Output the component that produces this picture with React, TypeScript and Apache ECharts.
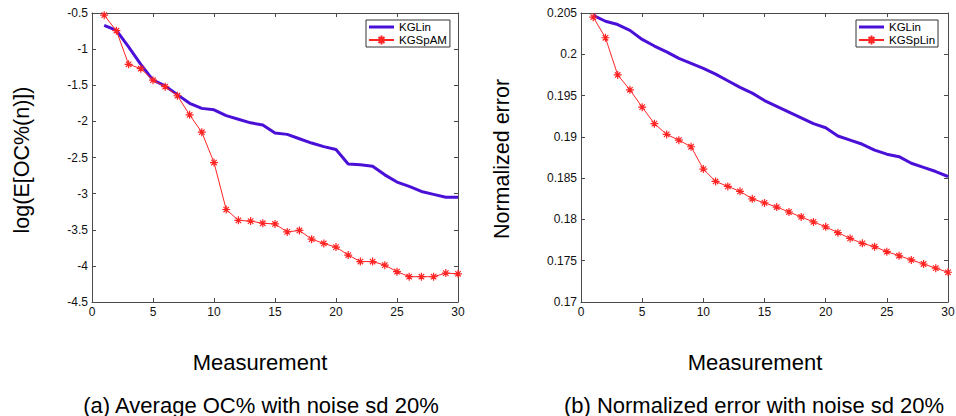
import React, { useEffect, useRef } from "react";
import * as echarts from "echarts";

const measurements = [1, 2, 3, 4, 5, 6, 7, 8, 9, 10, 11, 12, 13, 14, 15, 16, 17, 18, 19, 20, 21, 22, 23, 24, 25, 26, 27, 28, 29, 30];

const kglinA = [-0.67, -0.74, -0.97, -1.21, -1.43, -1.51, -1.63, -1.75, -1.82, -1.84, -1.92, -1.97, -2.02, -2.05, -2.16, -2.18, -2.24, -2.3, -2.35, -2.39, -2.59, -2.6, -2.62, -2.74, -2.84, -2.9, -2.97, -3.01, -3.05, -3.05];
const kgspamA = [-0.53, -0.745, -1.21, -1.27, -1.43, -1.52, -1.645, -1.91, -2.15, -2.57, -3.22, -3.37, -3.38, -3.41, -3.42, -3.53, -3.51, -3.63, -3.69, -3.74, -3.85, -3.94, -3.94, -3.99, -4.08, -4.15, -4.15, -4.15, -4.1, -4.11];

const kglinB = [0.2047, 0.204, 0.2036, 0.2029, 0.2018, 0.201, 0.2003, 0.1995, 0.1989, 0.1983, 0.1976, 0.1968, 0.196, 0.1953, 0.1944, 0.1937, 0.193, 0.1923, 0.1916, 0.1911, 0.1901, 0.1896, 0.1891, 0.1884, 0.1879, 0.1876, 0.1868, 0.1863, 0.1858, 0.1852];
const kgsplinB = [0.2045, 0.202, 0.1975, 0.1957, 0.1936, 0.1916, 0.1903, 0.1896, 0.1888, 0.1861, 0.1846, 0.184, 0.1834, 0.1825, 0.182, 0.1815, 0.1809, 0.1803, 0.1797, 0.1791, 0.1784, 0.1777, 0.1771, 0.1767, 0.1761, 0.1756, 0.1751, 0.1746, 0.1741, 0.1736];

const xLabel = "Measurement";
const yLabelA = "log(E[OC%(n)])";
const yLabelB = "Normalized error";
const captionA = "(a) Average OC% with noise sd 20%";
const captionB = "(b) Normalized error with noise sd 20%";

const FONT = '"Liberation Sans", Arial, Helvetica, sans-serif';
const BLUE = "#4a10d8";
const RED = "#ff2424";
const AXIS = "#4a4a4a";
const ASTERISK = "path://M5,0L5,10M0,5L10,5M1.6,1.6L8.4,8.4M1.6,8.4L8.4,1.6";
const THICK_LINE_ICON = "path://M0,0L25,0L25,3L0,3Z";

const pairs = (ys: number[]) => measurements.map((x, i) => [x, ys[i]]);

function xAxisFor(grid: number, pos: "bottom" | "top") {
  return {
    gridIndex: grid,
    type: "value",
    position: pos,
    min: 0,
    max: 30,
    interval: 5,
    axisLine: { show: true, onZero: false, lineStyle: { color: AXIS, width: 1 } },
    axisTick: { show: true, inside: true, length: 4, lineStyle: { color: AXIS } },
    axisLabel: { show: pos === "bottom", color: "#111", fontSize: 12, fontFamily: FONT, margin: 4 },
    splitLine: { show: false },
  };
}

function yAxisFor(grid: number, pos: "left" | "right", min: number, max: number, interval: number, dec: number) {
  return {
    gridIndex: grid,
    type: "value",
    position: pos,
    min,
    max,
    interval,
    axisLine: { show: true, onZero: false, lineStyle: { color: AXIS, width: 1 } },
    axisTick: { show: true, inside: true, length: 4, lineStyle: { color: AXIS } },
    axisLabel: {
      show: pos === "left",
      color: "#111",
      fontSize: 12,
      fontFamily: FONT,
      margin: 4,
      formatter: (v: number) => String(+v.toFixed(dec)),
    },
    splitLine: { show: false },
  };
}

function legendFor(left: number, names: string[]) {
  return {
    data: [
      { name: names[0], icon: THICK_LINE_ICON, itemStyle: { color: BLUE, borderWidth: 0 } },
      { name: names[1] },
    ],
    orient: "vertical",
    left,
    top: 20,
    itemGap: 1,
    itemWidth: 25,
    itemHeight: 11,
    symbolKeepAspect: true,
    padding: [1, 3, 1, 2],
    borderColor: "#333",
    borderWidth: 1,
    backgroundColor: "#fff",
    selectedMode: false,
    textStyle: { fontSize: 11.5, fontFamily: FONT, color: "#000", lineHeight: 11 },
  };
}

function text(x: number, y: number, t: string, size: number, rot = 0) {
  return {
    type: "text",
    x,
    y,
    rotation: rot,
    style: {
      text: t,
      fill: "#000",
      font: `${size}px ${FONT}`,
      textAlign: "center",
      textVerticalAlign: "middle",
    },
  };
}

export default function App() {
  const ref = useRef<HTMLDivElement>(null);
  useEffect(() => {
    const chart = echarts.init(ref.current!, null, { renderer: "svg" });
    const option: any = {
      animation: false,
      backgroundColor: "#fff",
      grid: [
        { left: 92, top: 13, width: 366, height: 289, outerBoundsMode: "none", containLabel: false },
        { left: 581, top: 13, width: 367, height: 289, outerBoundsMode: "none", containLabel: false },
      ],
      xAxis: [xAxisFor(0, "bottom"), xAxisFor(0, "top"), xAxisFor(1, "bottom"), xAxisFor(1, "top")],
      yAxis: [
        yAxisFor(0, "left", -4.5, -0.5, 0.5, 2),
        yAxisFor(0, "right", -4.5, -0.5, 0.5, 2),
        yAxisFor(1, "left", 0.17, 0.205, 0.005, 3),
        yAxisFor(1, "right", 0.17, 0.205, 0.005, 3),
      ],
      legend: [legendFor(366, ["KGLin", "KGSpAM"]), legendFor(856, ["KGLin", "KGSpLin"])],
      series: [
        {
          name: "KGLin",
          type: "line",
          xAxisIndex: 0,
          yAxisIndex: 0,
          data: pairs(kglinA),
          symbol: "none",
          lineStyle: { color: BLUE, width: 3 },
          itemStyle: { color: BLUE },
          z: 2,
        },
        {
          name: "KGSpAM",
          type: "line",
          xAxisIndex: 0,
          yAxisIndex: 0,
          data: pairs(kgspamA),
          symbol: ASTERISK,
          symbolSize: 8,
          lineStyle: { color: RED, width: 1 },
          itemStyle: { color: RED, borderColor: RED, borderWidth: 1.2 },
          z: 3,
        },
        {
          name: "KGLin",
          type: "line",
          xAxisIndex: 2,
          yAxisIndex: 2,
          data: pairs(kglinB),
          symbol: "none",
          lineStyle: { color: BLUE, width: 3 },
          itemStyle: { color: BLUE },
          z: 2,
        },
        {
          name: "KGSpLin",
          type: "line",
          xAxisIndex: 2,
          yAxisIndex: 2,
          data: pairs(kgsplinB),
          symbol: ASTERISK,
          symbolSize: 8,
          lineStyle: { color: RED, width: 1 },
          itemStyle: { color: RED, borderColor: RED, borderWidth: 1.2 },
          z: 3,
        },
      ],
      graphic: [
        text(22, 160, yLabelA, 21.5, Math.PI / 2),
        text(502, 159, yLabelB, 21.5, Math.PI / 2),
        text(260, 362, xLabel, 22),
        text(755, 362, xLabel, 22),
        text(261, 405, captionA, 22),
        text(754, 405, captionB, 22),
      ],
    };
    chart.setOption(option);
    return () => chart.dispose();
  }, []);
  return (
    <div
      ref={ref}
      style={{ position: "fixed", left: 0, top: 0, width: 956, height: 416, background: "#fff" }}
    />
  );
}
